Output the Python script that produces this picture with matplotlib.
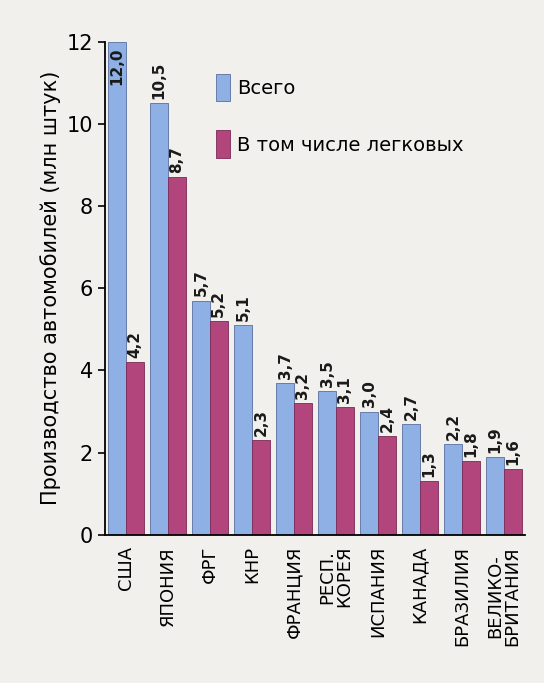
import matplotlib
matplotlib.use("Agg")
import matplotlib.pyplot as plt
from matplotlib.patches import Rectangle
import numpy as np

categories = ["США", "ЯПОНИЯ", "ФРГ", "КНР", "ФРАНЦИЯ", "РЕСП.\nКОРЕЯ", "ИСПАНИЯ", "КАНАДА", "БРАЗИЛИЯ", "ВЕЛИКО-\nБРИТАНИЯ"]
total = [12.0, 10.5, 5.7, 5.1, 3.7, 3.5, 3.0, 2.7, 2.2, 1.9]
cars = [4.2, 8.7, 5.2, 2.3, 3.2, 3.1, 2.4, 1.3, 1.8, 1.6]

bg = "#f2f0ec"
blue = "#8fb0e4"
mag = "#b2457c"

fig = plt.figure(figsize=(5.44, 6.83), dpi=100, facecolor=bg)
ax = fig.add_axes([0.193, 0.217, 0.772, 0.722], facecolor=bg)
x = np.arange(len(categories))
w = 0.42
ax.bar(x - w/2, total, w, color=blue, edgecolor="#5a6fa0", linewidth=0.6)
ax.bar(x + w/2, cars, w, color=mag, edgecolor="#7a2a55", linewidth=0.6)

fmt = lambda v: f"{v:.1f}".replace(".", ",")
for xi, t, c in zip(x, total, cars):
    if t >= 12:
        ax.text(xi - w/2, t - 0.15, fmt(t), rotation=90, ha="center", va="top", fontsize=11, fontweight="bold", color="#1a1a1a")
    else:
        ax.text(xi - w/2, t + 0.1, fmt(t), rotation=90, ha="center", va="bottom", fontsize=11, fontweight="bold", color="#1a1a1a")
    ax.text(xi + w/2, c + 0.1, fmt(c), rotation=90, ha="center", va="bottom", fontsize=11, fontweight="bold", color="#1a1a1a")

ax.set_xlim(-0.5, len(categories) - 0.5)
ax.set_ylim(0, 12)
ax.set_yticks(range(0, 13, 2))
ax.tick_params(axis="y", labelsize=15, direction="out", length=5, width=1.2)
ax.set_xticks(x)
ax.set_xticklabels(categories, rotation=90, fontsize=13, va="top", ha="center", linespacing=0.95)
ax.tick_params(axis="x", length=0, pad=8)
for s in ["top", "right"]:
    ax.spines[s].set_visible(False)
ax.spines["left"].set_linewidth(1.3)
ax.spines["bottom"].set_linewidth(1.3)
ax.set_ylabel("Производство автомобилей (млн штук)", fontsize=15)

# legend
ax.add_patch(Rectangle((0.265, 0.88), 0.032, 0.055, transform=ax.transAxes, color=blue, ec="#5a6fa0", lw=0.6))
ax.add_patch(Rectangle((0.265, 0.765), 0.032, 0.055, transform=ax.transAxes, color=mag, ec="#7a2a55", lw=0.6))
ax.text(0.315, 0.905, "Всего", transform=ax.transAxes, fontsize=14, va="center")
ax.text(0.315, 0.79, "В том числе легковых", transform=ax.transAxes, fontsize=14, va="center")

fig.savefig("out.png", dpi=100, facecolor=bg)
